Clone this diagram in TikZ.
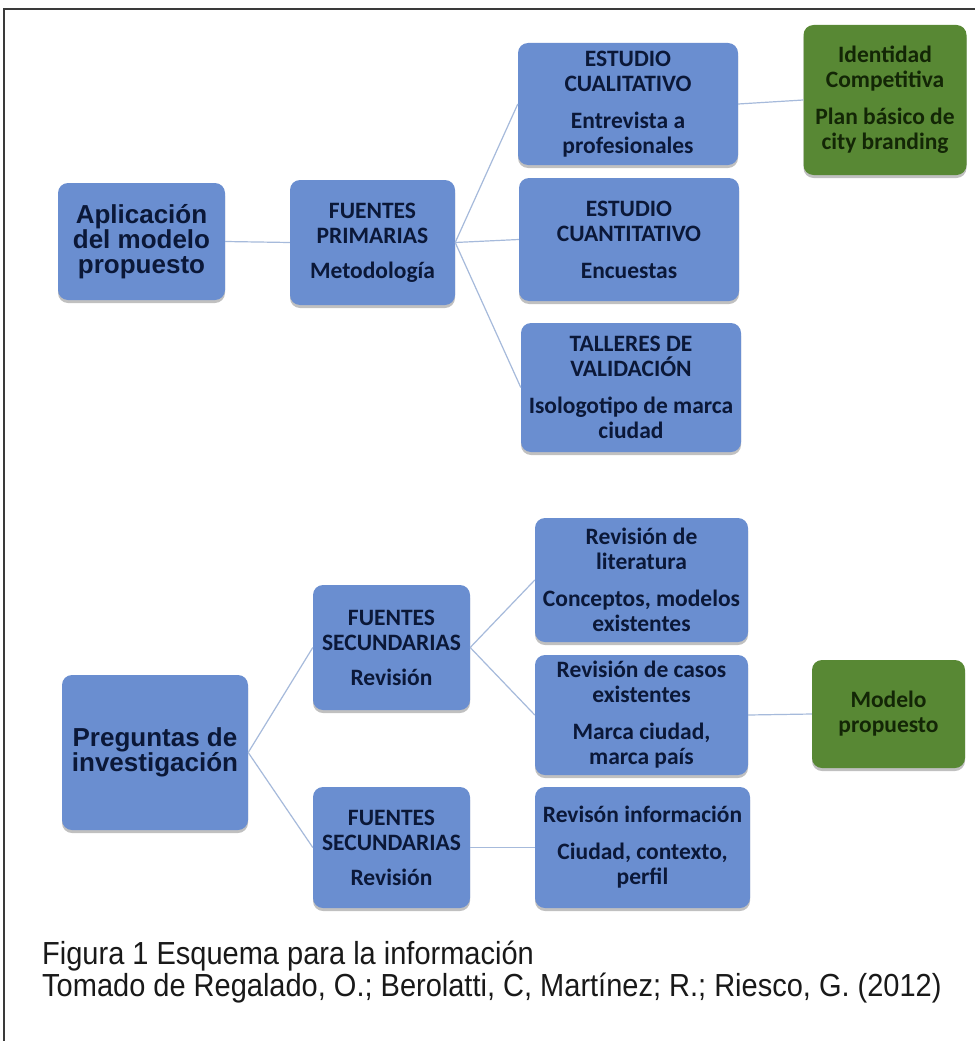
\documentclass[tikz,border=0pt]{standalone}
\usepackage{fontspec}
\setmainfont{Liberation Sans}
\newfontfamily\boxfont{Carlito}
\newfontfamily\headfont{Liberation Sans}
\usetikzlibrary{shadows}

\definecolor{boxblue}{HTML}{6A8ED0}
\definecolor{boxgreen}{HTML}{588834}
\definecolor{inkblue}{HTML}{0B1838}
\definecolor{inkgreen}{HTML}{132606}
\definecolor{linkcol}{HTML}{A6BADB}
\definecolor{framecol}{HTML}{3A3A3A}

\tikzset{
  card/.style={rounded corners=10pt, inner sep=2pt, align=center,
    drop shadow={shadow xshift=0pt, shadow yshift=-3pt, opacity=0.35, fill=black!70}},
  bluecard/.style={card, fill=boxblue, text=inkblue,
    font=\boxfont\bfseries\fontsize{23.5}{25}\selectfont},
  greencard/.style={card, fill=boxgreen, text=inkgreen,
    font=\boxfont\bfseries\fontsize{23.5}{25}\selectfont},
  headcard/.style={card, fill=boxblue, text=inkblue,
    font=\headfont\bfseries\fontsize{26}{25}\selectfont},
  link/.style={draw=linkcol, line width=1.2pt},
  caption/.style={anchor=west, inner sep=0pt, text=black!90,
    font=\fontsize{29}{32}\selectfont},
  frameline/.style={draw=framecol, line width=2.2pt}
}

\begin{document}
\begin{tikzpicture}[x=1pt, y=-1pt]
\useasboundingbox (0,0) rectangle (975,1041);
\fill[white] (0,0) rectangle (975,1041);

% outer frame (top and left sides)
\draw[frameline] (4,1041) -- (4,9) -- (975,9);

% upper tree
\node[headcard, minimum width=167pt, minimum height=117pt] (apl) at (141.5,241.5)
  {Aplicación\\del modelo\\propuesto};
\node[bluecard, minimum width=165pt, minimum height=125pt] (fp) at (372.5,242.5)
  {FUENTES\\PRIMARIAS\\[10pt]Metodología};
\node[bluecard, minimum width=220pt, minimum height=122pt] (ecual) at (628,104)
  {ESTUDIO\\CUALITATIVO\\[12pt]Entrevista a\\profesionales};
\node[greencard, minimum width=163pt, minimum height=150pt] (ident) at (885,100)
  {Identidad\\Competitiva\\[12pt]Plan básico de\\city branding};
\node[bluecard, minimum width=220pt, minimum height=123pt] (ecuan) at (629,239.5)
  {ESTUDIO\\CUANTITATIVO\\[12pt]Encuestas};
\node[bluecard, minimum width=220pt, minimum height=129pt] (talleres) at (631,387.5)
  {TALLERES DE\\VALIDACIÓN\\[12pt]Isologotipo de marca\\ciudad};

% lower tree
\node[headcard, minimum width=186pt, minimum height=155pt] (preg) at (155,752.5)
  {Preguntas de\\investigación};
\node[bluecard, minimum width=157pt, minimum height=125pt] (fsa) at (391.5,647.5)
  {FUENTES\\SECUNDARIAS\\[10pt]Revisión};
\node[bluecard, minimum width=157pt, minimum height=121pt] (fsb) at (391.5,847.5)
  {FUENTES\\SECUNDARIAS\\[10pt]Revisión};
\node[bluecard, minimum width=213pt, minimum height=124pt] (lit) at (641.5,580)
  {Revisión de\\literatura\\[12pt]Conceptos, modelos\\existentes};
\node[bluecard, minimum width=213pt, minimum height=120pt] (casos) at (641.5,715)
  {Revisión de casos\\existentes\\[12pt]Marca ciudad,\\marca país};
\node[bluecard, minimum width=215pt, minimum height=121pt] (info) at (642.5,847.5)
  {Revisón información\\[12pt]Ciudad, contexto,\\perfil};
\node[greencard, minimum width=153pt, minimum height=108pt] (modelo) at (888.5,714)
  {Modelo\\propuesto};

% connectors
\draw[link] (apl.east) -- (fp.west);
\draw[link] (fp.east) -- (ecual.west);
\draw[link] (fp.east) -- (ecuan.west);
\draw[link] (fp.east) -- (talleres.west);
\draw[link] (ecual.east) -- (ident.west);
\draw[link] (preg.east) -- (fsa.west);
\draw[link] (preg.east) -- (fsb.west);
\draw[link] (fsa.east) -- (lit.west);
\draw[link] (fsa.east) -- (casos.west);
\draw[link] (fsb.east) -- (info.west);
\draw[link] (casos.east) -- (modelo.west);

% caption
\node[caption] (cap1) at (42,956) {\scalebox{1}[1.1]{Figura 1 Esquema para la información}};
\node[caption] (cap2) at (42,988) {\scalebox{1}[1.1]{Tomado de Regalado, O.; Berolatti, C, Martínez; R.; Riesco, G. (2012)}};
\end{tikzpicture}
\end{document}
